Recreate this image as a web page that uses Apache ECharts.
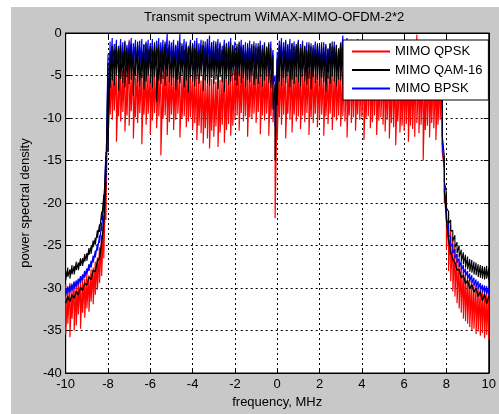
<!DOCTYPE html>
<html>
<head>
<meta charset="utf-8">
<script src="https://cdn.jsdelivr.net/npm/echarts@6/dist/echarts.min.js"></script>
<style>
html, body { margin: 0; padding: 0; background: #fff; }
#chart { position: absolute; left: 11px; top: 7px; width: 488px; height: 407px; background: #c8c8c8; }
</style>
</head>
<body>
<div id="chart"></div>
<script>
// frequency grid, MHz
var freq = [
  -10,-9.9,-9.8,-9.7,-9.6,-9.5,-9.4,-9.3,-9.2,-9.1,
  -9,-8.9,-8.8,-8.7,-8.6,-8.5,-8.4,-8.3,-8.2,-8.1,
  -8,-7.9,-7.8,-7.7,-7.6,-7.5,-7.4,-7.3,-7.2,-7.1,
  -7,-6.9,-6.8,-6.7,-6.6,-6.5,-6.4,-6.3,-6.2,-6.1,
  -6,-5.9,-5.8,-5.7,-5.6,-5.5,-5.4,-5.3,-5.2,-5.1,
  -5,-4.9,-4.8,-4.7,-4.6,-4.5,-4.4,-4.3,-4.2,-4.1,
  -4,-3.9,-3.8,-3.7,-3.6,-3.5,-3.4,-3.3,-3.2,-3.1,
  -3,-2.9,-2.8,-2.7,-2.6,-2.5,-2.4,-2.3,-2.2,-2.1,
  -2,-1.9,-1.8,-1.7,-1.6,-1.5,-1.4,-1.3,-1.2,-1.1,
  -1,-0.9,-0.8,-0.7,-0.6,-0.5,-0.4,-0.3,-0.2,-0.1,
  0,0.1,0.2,0.3,0.4,0.5,0.6,0.7,0.8,0.9,
  1,1.1,1.2,1.3,1.4,1.5,1.6,1.7,1.8,1.9,
  2,2.1,2.2,2.3,2.4,2.5,2.6,2.7,2.8,2.9,
  3,3.1,3.2,3.3,3.4,3.5,3.6,3.7,3.8,3.9,
  4,4.1,4.2,4.3,4.4,4.5,4.6,4.7,4.8,4.9,
  5,5.1,5.2,5.3,5.4,5.5,5.6,5.7,5.8,5.9,
  6,6.1,6.2,6.3,6.4,6.5,6.6,6.7,6.8,6.9,
  7,7.1,7.2,7.3,7.4,7.5,7.6,7.7,7.8,7.9,
  8,8.1,8.2,8.3,8.4,8.5,8.6,8.7,8.8,8.9,
  9,9.1,9.2,9.3,9.4,9.5,9.6,9.7,9.8,9.9,
  10
];

// MIMO QPSK: upper and lower edge of the trace at each frequency, dB
var qpskHi = [
  -29.6,-30.0,-29.4,-29.8,-29.2,-29.5,-29.0,-29.3,-28.8,-28.9,
  -28.3,-28.5,-27.8,-27.6,-26.9,-26.4,-25.2,-23.8,-21.5,-17.0,
  -6.0,-4.2,-4.8,-3.9,-4.5,-5.0,-3.7,-4.4,-4.1,-4.9,
  -0.8,-4.6,-4.0,-5.2,-3.8,-4.3,-4.7,-3.6,-4.5,-4.1,
  -4.9,-3.9,-4.4,-4.8,-3.5,-4.2,-5.0,-4.0,-4.6,-3.8,
  -4.3,-4.9,-4.1,-3.7,-4.6,-5.1,-4.2,-4.5,-3.9,-4.8,
  -5.0,-4.4,-5.3,-4.7,-5.6,-4.9,-5.2,-5.8,-4.6,-5.4,
  -5.1,-5.7,-4.8,-5.5,-5.0,-4.6,-5.3,-4.9,-4.4,-4.7,
  -4.2,-3.8,-4.5,-4.0,-3.6,-4.3,-4.7,-3.9,-4.1,-4.4,
  -3.9,-4.5,-4.2,-3.7,-4.6,-4.0,-4.4,-4.8,-5.0,-6.5,
  -6.8,-4.1,-4.5,-3.8,-4.2,-4.9,-3.6,-4.3,-4.0,-4.6,
  -3.7,-4.4,-4.8,-4.0,-3.9,-4.5,-4.2,-3.6,-4.7,-4.1,
  -4.3,-3.9,-4.6,-4.2,-5.0,-4.4,-3.8,-4.5,-4.1,-4.8,
  -4.0,-4.6,-3.7,-4.3,-4.8,-4.1,-4.5,-3.9,-4.4,-4.7,
  -4.2,-4.8,-4.4,-3.8,-4.5,-4.9,-4.1,-4.6,-4.3,-4.0,
  -4.6,-4.2,-5.0,-4.5,-4.8,-4.1,-4.7,-5.2,-4.4,-4.9,
  -4.7,-4.3,-5.1,-4.6,-4.9,-4.2,-0.2,-4.8,-4.5,-5.0,
  -4.4,-4.8,-4.1,-4.6,-4.3,-4.9,-4.5,-4.7,-5.3,-16.0,
  -19.5,-21.0,-22.6,-24.0,-25.0,-26.0,-26.8,-27.3,-27.9,-28.2,
  -28.6,-28.8,-29.2,-29.4,-29.7,-29.8,-30.1,-30.2,-30.4,-30.3,
  -30.6
];
var qpskLo = [
  -35.5,-34.2,-35.8,-33.6,-35.0,-34.4,-33.1,-34.8,-32.9,-33.5,
  -32.4,-32.8,-31.6,-31.9,-30.8,-30.2,-29.4,-28.6,-26.5,-22.0,
  -10.5,-9.6,-10.2,-9.1,-12.8,-9.8,-10.4,-9.3,-11.6,-9.7,
  -10.9,-9.2,-12.4,-9.9,-10.6,-9.4,-13.1,-9.6,-10.8,-9.5,
  -11.9,-10.3,-9.4,-11.2,-9.8,-14.4,-10.1,-9.7,-12.0,-10.5,
  -9.6,-11.4,-10.2,-9.5,-12.3,-10.0,-9.8,-11.1,-10.4,-9.9,
  -11.3,-10.6,-12.6,-10.9,-11.8,-13.0,-11.2,-12.4,-13.6,-11.5,
  -12.2,-11.0,-13.4,-11.7,-10.8,-12.9,-11.4,-10.7,-12.1,-10.9,
  -10.2,-9.7,-11.5,-9.4,-10.4,-9.8,-12.2,-9.9,-10.1,-9.5,
  -10.6,-9.3,-11.9,-9.7,-10.3,-9.5,-12.1,-9.8,-10.5,-21.8,
  -12.6,-9.9,-10.8,-9.6,-12.4,-9.5,-10.2,-11.7,-9.6,-10.4,
  -9.8,-11.3,-9.7,-10.5,-9.4,-12.0,-9.9,-10.6,-9.5,-11.1,
  -10.0,-9.6,-12.1,-9.8,-10.7,-9.5,-11.4,-9.9,-10.3,-9.7,
  -11.0,-9.8,-10.4,-12.3,-9.7,-10.6,-9.9,-11.5,-9.6,-10.2,
  -9.9,-12.6,-10.1,-9.8,-11.2,-10.5,-9.7,-12.0,-10.3,-9.9,
  -10.8,-11.6,-10.2,-12.4,-10.6,-11.1,-13.2,-10.4,-11.7,-10.9,
  -11.5,-10.7,-12.8,-10.9,-11.3,-12.2,-10.6,-11.8,-10.8,-15.0,
  -11.4,-10.9,-12.3,-10.6,-11.2,-12.6,-10.8,-10.2,-14.0,-20.0,
  -25.5,-28.0,-29.2,-30.4,-31.0,-31.8,-32.4,-32.9,-33.6,-33.9,
  -34.2,-34.6,-35.0,-34.8,-35.4,-35.1,-35.6,-35.3,-35.9,-35.5,
  -36.1
];

// MIMO QAM-16 (upper trace)
var qam16Hi = [
  -28.0,-27.6,-27.8,-27.3,-27.4,-26.9,-27.0,-26.5,-26.5,-26.0,
  -25.9,-25.3,-25.1,-24.4,-24.1,-23.2,-22.5,-21.0,-19.0,-14.5,
  -3.5,-2.2,-1.5,-2.0,-1.2,-1.8,-1.4,-2.3,-1.1,-1.7,
  -1.9,-1.3,-2.1,-1.6,-1.0,-1.8,-2.2,-1.4,-1.2,-1.9,
  -1.5,-2.0,-1.1,-1.7,-1.3,-2.1,-1.6,-1.0,-1.8,-1.4,
  -2.2,-1.2,-1.6,-1.9,-1.1,-1.5,-2.0,-1.3,-1.7,-1.0,
  -1.4,-1.8,-1.2,-2.1,-1.5,-0.9,-1.7,-1.3,-1.9,-1.1,
  -1.6,-1.0,-1.8,-1.3,-2.0,-1.4,-1.2,-1.7,-1.1,-1.5,
  -1.9,-1.3,-1.0,-1.6,-1.4,-2.1,-1.2,-1.8,-1.5,-1.0,
  -1.7,-1.2,-1.5,-1.9,-1.3,-1.6,-1.1,-1.8,-2.6,-6.0,
  -3.0,-1.4,-1.1,-1.7,-1.0,-1.5,-1.9,-1.2,-1.6,-1.3,
  -1.0,-1.8,-1.3,-1.5,-2.0,-1.1,-1.6,-1.4,-1.9,-1.2,
  -1.5,-1.1,-1.7,-1.3,-1.9,-1.2,-1.0,-1.6,-1.4,-1.8,
  -1.2,-1.6,-1.9,-1.1,-1.4,-1.7,-1.3,-1.0,-1.8,-1.5,
  -1.3,-1.9,-1.5,-1.1,-1.7,-1.2,-2.0,-1.4,-1.6,-1.0,
  -1.7,-1.3,-1.1,-1.8,-1.5,-1.2,-1.9,-1.4,-1.0,-1.6,
  -1.4,-1.8,-1.2,-1.6,-1.0,-1.7,-1.3,-1.9,-1.5,-1.2,
  -1.8,-1.3,-1.6,-1.1,-1.9,-1.4,-1.7,-2.0,-3.0,-14.5,
  -18.8,-21.0,-22.0,-23.2,-23.8,-24.6,-25.0,-25.5,-25.8,-26.1,
  -26.3,-26.6,-26.7,-26.9,-27.0,-27.2,-27.3,-27.4,-27.5,-27.4,
  -27.6
];
var qam16Lo = [
  -29.1,-28.7,-28.9,-28.4,-28.4,-27.9,-27.9,-27.4,-27.4,-26.9,
  -26.8,-26.1,-26.0,-25.2,-24.9,-24.1,-23.4,-22.0,-20.3,-17.0,
  -14.0,-6.5,-5.6,-6.2,-5.0,-6.8,-5.4,-5.9,-6.4,-5.2,
  -6.0,-5.5,-7.4,-5.1,-5.8,-6.3,-5.3,-6.6,-5.7,-5.0,
  -5.9,-6.5,-5.2,-8.1,-5.6,-6.0,-5.4,-6.2,-5.1,-5.8,
  -6.1,-5.3,-6.7,-5.5,-5.9,-5.0,-6.4,-5.6,-7.0,-5.2,
  -5.7,-6.3,-5.4,-6.0,-5.1,-6.8,-5.6,-5.9,-6.2,-5.3,
  -6.0,-5.5,-6.6,-5.2,-5.8,-6.9,-5.4,-6.1,-5.7,-5.0,
  -5.6,-6.2,-5.1,-5.9,-5.3,-6.4,-5.5,-5.8,-5.0,-6.1,
  -5.4,-6.0,-5.2,-6.3,-5.6,-5.1,-5.9,-6.5,-9.0,-15.0,
  -8.5,-5.7,-6.2,-5.3,-5.9,-5.0,-6.4,-5.5,-6.0,-5.2,
  -5.8,-6.3,-5.1,-5.7,-6.1,-5.4,-6.6,-5.2,-5.9,-5.5,
  -6.2,-5.3,-5.8,-6.9,-5.4,-6.0,-5.1,-5.7,-6.3,-5.5,
  -5.6,-6.1,-5.2,-5.9,-6.4,-5.3,-5.7,-6.2,-5.0,-5.8,
  -6.0,-5.4,-6.5,-5.1,-5.8,-6.2,-5.5,-5.9,-5.2,-6.3,
  -5.7,-6.0,-5.3,-6.6,-5.4,-5.9,-5.1,-6.1,-5.6,-5.8,
  -6.2,-5.5,-5.9,-5.2,-6.4,-5.7,-5.3,-6.0,-5.6,-6.3,
  -5.4,-6.1,-5.8,-5.2,-6.5,-5.6,-6.0,-6.8,-12.0,-17.5,
  -20.6,-22.4,-23.3,-24.5,-25.2,-25.9,-26.4,-26.9,-27.2,-27.6,
  -27.8,-28.1,-28.2,-28.4,-28.5,-28.7,-28.8,-28.9,-29.0,-28.9,
  -29.1
];

// MIMO BPSK
var bpskHi = [
  -30.0,-29.8,-29.7,-29.5,-29.3,-29.1,-28.9,-28.6,-28.4,-28.0,
  -27.7,-27.2,-26.8,-26.2,-25.6,-24.8,-23.8,-22.3,-19.8,-14.0,
  -2.5,-1.0,-0.6,-1.3,-0.8,-1.5,-0.7,-1.1,-0.9,-1.4,
  -1.0,-0.6,-1.2,-0.8,-1.5,-0.9,-0.7,-1.3,-1.0,-0.8,
  -1.2,-0.7,-1.4,-0.9,-0.6,-1.1,-0.8,-1.3,-0.1,-0.9,
  -1.1,-0.8,-1.4,-0.9,-0.1,-1.2,-0.7,-1.0,-1.5,-0.8,
  -1.3,-0.9,-0.6,-1.2,-0.8,-1.4,-1.0,-0.7,-0.3,-1.1,
  -0.9,-1.3,-0.7,-1.1,-1.5,-0.8,-1.2,-1.0,-0.6,-1.4,
  -1.0,-1.6,-1.2,-0.8,-1.4,-1.1,-1.7,-0.9,-1.3,-1.5,
  -1.2,-1.6,-0.9,-1.4,-1.1,-1.8,-1.3,-1.0,-2.0,-5.0,
  -2.2,-0.9,-0.6,-1.1,-0.8,-1.3,-0.7,-1.2,-1.0,-1.5,
  -0.8,-1.3,-0.9,-1.6,-1.1,-1.4,-1.2,-1.7,-1.0,-1.5,
  -1.3,-1.7,-1.1,-1.5,-1.8,-1.2,-1.6,-1.0,-1.4,-1.9,
  -1.1,-0.3,-0.9,-0.6,-1.2,-0.8,-1.0,-1.4,-0.7,-1.3,
  -1.5,-1.1,-1.8,-1.3,-1.6,-1.2,-1.9,-1.4,-1.7,-1.5,
  -1.6,-1.3,-1.8,-1.5,-2.0,-1.4,-1.7,-1.9,-1.5,-1.8,
  -1.7,-1.4,-2.0,-1.6,-1.8,-1.5,-2.1,-1.7,-1.9,-1.6,
  -1.8,-1.5,-2.0,-1.7,-1.9,-1.6,-2.1,-1.8,-2.5,-16.0,
  -20.0,-22.4,-23.9,-24.8,-25.4,-26.0,-26.5,-26.9,-27.3,-27.7,
  -28.0,-28.3,-28.5,-28.8,-29.0,-29.2,-29.4,-29.6,-29.7,-29.8,
  -29.9
];
var bpskLo = [
  -30.9,-30.6,-30.5,-30.3,-30.1,-29.9,-29.6,-29.4,-29.1,-28.8,
  -28.4,-28.0,-27.6,-27.0,-26.4,-25.6,-24.7,-23.3,-21.0,-17.5,
  -14.0,-4.6,-3.8,-4.2,-3.6,-4.4,-3.9,-4.1,-3.7,-4.3,
  -3.9,-4.5,-3.7,-4.0,-3.6,-4.3,-3.8,-4.6,-3.9,-4.1,
  -4.2,-3.7,-4.4,-3.8,-4.0,-3.6,-4.5,-3.9,-4.1,-3.7,
  -4.3,-3.8,-4.0,-4.6,-3.7,-4.2,-3.9,-4.4,-3.6,-4.1,
  -3.8,-4.5,-4.0,-3.7,-4.3,-3.9,-4.6,-4.1,-3.8,-4.2,
  -4.4,-3.9,-4.2,-4.7,-3.8,-4.1,-4.5,-3.9,-4.3,-4.0,
  -3.9,-4.4,-4.1,-3.8,-4.6,-4.0,-4.3,-3.7,-4.5,-4.2,
  -4.1,-3.8,-4.5,-4.0,-4.3,-3.9,-4.7,-4.4,-6.0,-11.0,
  -6.0,-4.2,-3.9,-4.4,-4.0,-4.6,-3.8,-4.3,-4.1,-3.9,
  -4.5,-4.0,-4.3,-3.8,-4.6,-4.1,-3.9,-4.4,-4.2,-4.0,
  -4.3,-4.7,-4.0,-4.4,-3.9,-4.5,-4.1,-4.3,-4.6,-4.0,
  -4.2,-3.8,-4.4,-4.0,-4.6,-4.1,-3.9,-4.3,-4.5,-4.0,
  -4.4,-4.1,-4.6,-4.2,-4.0,-4.5,-4.3,-4.7,-4.1,-4.4,
  -4.3,-4.6,-4.2,-4.5,-4.0,-4.7,-4.4,-4.2,-4.6,-4.3,
  -4.5,-4.2,-4.7,-4.4,-4.1,-4.6,-4.3,-4.8,-4.5,-4.2,
  -4.6,-4.3,-4.5,-4.8,-4.2,-4.7,-4.4,-4.9,-13.0,-18.5,
  -22.0,-23.9,-25.1,-25.9,-26.5,-27.0,-27.5,-27.9,-28.3,-28.6,
  -28.9,-29.2,-29.4,-29.7,-29.9,-30.1,-30.3,-30.5,-30.6,-30.7,
  -30.8
];

// second (lower) QAM-16 trace, visible only on the skirts
var skirtFreqL = [-10,-9.9,-9.8,-9.7,-9.6,-9.5,-9.4,-9.3,-9.2,-9.1,-9,-8.9,-8.8,-8.7,-8.6,-8.5,-8.4,-8.3,-8.2,-8.1];
var qam16LowL = [-31.8,-31.0,-31.6,-30.8,-31.2,-30.4,-30.8,-29.9,-30.3,-29.4,-29.7,-28.7,-29.0,-27.9,-28.1,-26.8,-26.5,-24.6,-22.3,-17.5];
var skirtFreqR = [7.9,8,8.1,8.2,8.3,8.4,8.5,8.6,8.7,8.8,8.9,9,9.1,9.2,9.3,9.4,9.5,9.6,9.7,9.8,9.9,10];
var qam16LowR = [-18.5,-22.0,-24.3,-25.8,-26.6,-27.0,-27.9,-27.8,-28.8,-28.5,-29.5,-29.1,-30.1,-29.6,-30.5,-30.0,-31.0,-30.4,-31.5,-30.7,-31.9,-30.9];

var legendNames = ['MIMO QPSK', 'MIMO QAM-16', 'MIMO BPSK'];
var xTicks = [-10, 10, 2];
var yTicks = [-40, 0, 5];

function pairs(xs, ys) {
  return xs.map(function (x, i) { return [x, ys[i]]; });
}

// trace drawn down and up through the upper and lower edge at every frequency
function band(xs, hi, lo) {
  var out = [];
  xs.forEach(function (x, i) {
    out.push([x, hi[i]]);
    out.push([x, lo[i]]);
  });
  return out;
}

var lowerQam = pairs(skirtFreqL, qam16LowL).concat([[0, '-']], pairs(skirtFreqR, qam16LowR));

var FONT = '"Liberation Sans", Arial, Helvetica, sans-serif';

function line(name, color, data, width) {
  return {
    name: name,
    type: 'line',
    data: data,
    symbol: 'none',
    showSymbol: false,
    connectNulls: false,
    clip: true,
    lineStyle: { width: width, color: color, join: 'bevel' },
    itemStyle: { color: color },
    emphasis: { disabled: true }
  };
}

var chart = echarts.init(document.getElementById('chart'), null, { renderer: 'canvas' });

var axisBase = {
  axisLine: { show: true, onZero: false, lineStyle: { color: '#000', width: 1 } },
  axisTick: { show: true, inside: true, length: 5, lineStyle: { color: '#000' } },
  axisLabel: { color: '#000', fontSize: 13, fontFamily: FONT }
};

chart.setOption({
  animation: false,
  backgroundColor: '#c8c8c8',
  textStyle: { fontFamily: FONT },
  title: {
    text: 'Transmit spectrum WiMAX-MIMO-OFDM-2*2',
    left: 133,
    top: 4,
    padding: 0,
    textStyle: { fontSize: 13, fontWeight: 'normal', color: '#000', fontFamily: FONT }
  },
  legend: {
    data: legendNames,
    orient: 'vertical',
    left: 332,
    top: 33,
    padding: [4, 6, 4, 9],
    itemGap: 3.5,
    itemWidth: 38,
    itemHeight: 2,
    itemTextGap: 5,
    icon: 'rect',
    backgroundColor: '#fff',
    borderColor: '#000',
    borderWidth: 1,
    borderRadius: 0,
    textStyle: { fontSize: 13, color: '#000', lineHeight: 15, fontFamily: FONT }
  },
  grid: {
    left: 47, top: 26, right: 3, bottom: 36,
    show: true, backgroundColor: '#fff', borderColor: '#000', borderWidth: 1
  },
  xAxis: [
    Object.assign({}, axisBase, {
      type: 'value', min: xTicks[0], max: xTicks[1], interval: xTicks[2],
      position: 'bottom',
      name: 'frequency, MHz', nameLocation: 'middle', nameGap: 23,
      nameTextStyle: { color: '#000', fontSize: 13, fontFamily: FONT },
      axisLabel: { color: '#000', fontSize: 13, fontFamily: FONT, margin: 5 },
      splitLine: { show: true, lineStyle: { color: '#000', type: [2, 3], width: 1 } }
    }),
    Object.assign({}, axisBase, {
      type: 'value', min: xTicks[0], max: xTicks[1], interval: xTicks[2],
      position: 'top',
      axisLabel: { show: false },
      splitLine: { show: false }
    })
  ],
  yAxis: [
    Object.assign({}, axisBase, {
      type: 'value', min: yTicks[0], max: yTicks[1], interval: yTicks[2],
      position: 'left',
      name: 'power spectral density', nameLocation: 'middle', nameGap: 32,
      nameTextStyle: { color: '#000', fontSize: 13, fontFamily: FONT },
      axisLabel: { color: '#000', fontSize: 13, fontFamily: FONT, margin: 4 },
      splitLine: { show: true, lineStyle: { color: '#000', type: [2, 3], width: 1 } }
    }),
    Object.assign({}, axisBase, {
      type: 'value', min: yTicks[0], max: yTicks[1], interval: yTicks[2],
      position: 'right',
      axisLabel: { show: false },
      splitLine: { show: false }
    })
  ],
  series: [
    line('MIMO QPSK', '#ff0000', band(freq, qpskHi, qpskLo), 1.2),
    line('MIMO BPSK', '#0000ff', band(freq, bpskHi, bpskLo), 1.2),
    line('MIMO QAM-16', '#000000', lowerQam, 1.4),
    line('MIMO QAM-16', '#000000', band(freq, qam16Hi, qam16Lo), 1.1)
  ]
});
</script>
</body>
</html>
